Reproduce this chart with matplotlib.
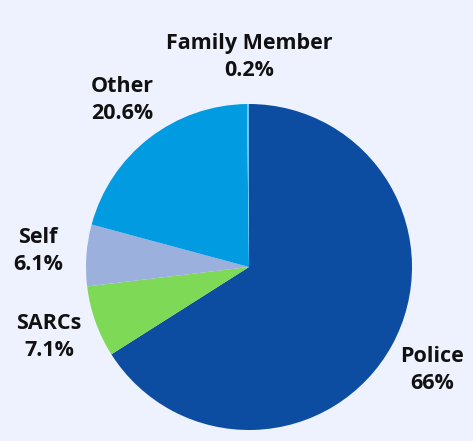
import matplotlib
matplotlib.use("Agg")
import matplotlib.pyplot as plt

labels = ["Police", "SARCs", "Self", "Other", "Family Member"]
shares = [66, 7.1, 6.1, 20.6, 0.2]
share_text = ["66%", "7.1%", "6.1%", "20.6%", "0.2%"]
colors = ["#0C4DA2", "#7ED957", "#9BB0DC", "#009BE0", "#6CC4F2"]

W, H = 473, 441
bg = "#EEF1FE"
fig = plt.figure(figsize=(W / 100, H / 100), dpi=100, facecolor=bg)

# pie center (249, 267) px, radius 163 px
cx, cy, r = 249, 267, 163
ax = fig.add_axes([(cx - r) / W, (H - cy - r) / H, 2 * r / W, 2 * r / H])
ax.set_facecolor(bg)
ax.pie(shares, colors=colors, startangle=90, counterclock=False,
       radius=1, wedgeprops=dict(linewidth=0))
ax.set_xlim(-1, 1)
ax.set_ylim(-1, 1)
ax.set_aspect("equal")
ax.axis("off")

# label centers in pixels
label_pos = {
    "Police": (432, 370),
    "SARCs": (49, 337),
    "Self": (38, 251),
    "Other": (122, 100),
    "Family Member": (249, 57),
}
for name, txt in zip(labels, share_text):
    px, py = label_pos[name]
    fig.text(px / W, 1 - py / H, f"{name}\n{txt}", ha="center", va="center",
             fontsize=15.5, fontweight="bold", family=["Open Sans", "DejaVu Sans"],
             linespacing=1.4, color="#111111")

fig.savefig("out.png", dpi=100, facecolor=bg)
